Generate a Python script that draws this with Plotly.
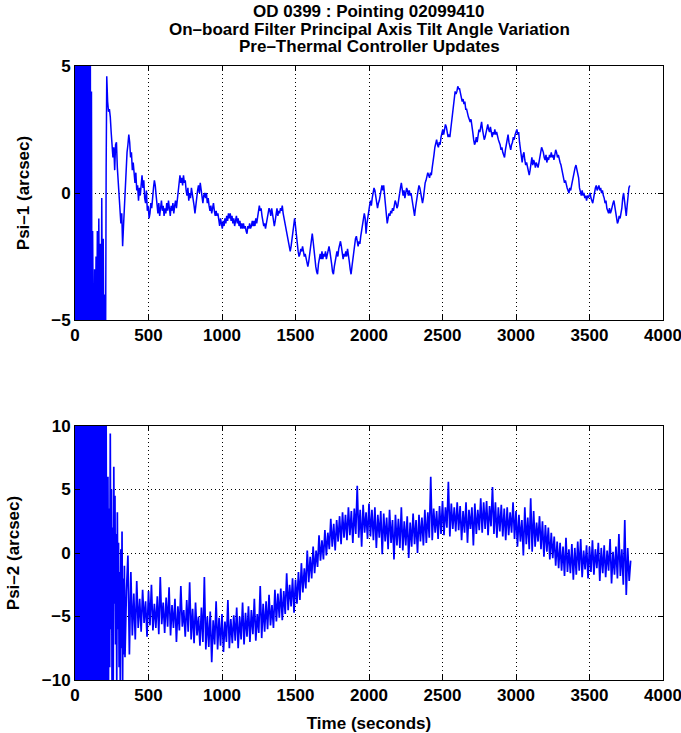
import numpy as np
import plotly.graph_objects as go
from plotly.subplots import make_subplots

# ---------------- Psi-1 ----------------
# settling transient at the start of the pointing (seconds, arcsec)
psi1_start_t = [0, 4, 8, 12, 16, 20, 24, 28, 32, 36, 40, 44, 48, 52, 56, 60,
                64, 68, 72, 76, 80, 84, 88, 92, 96, 100, 104, 108, 112, 116,
                120, 124, 128, 133, 138, 143, 148, 152, 157, 162, 167, 172,
                177, 182, 187, 192, 197, 202, 207, 212]
psi1_start_v = [12, -12, 11, -13, 12, -11, 13, -12, 10, -12, 12, -13, 11, -10,
                12, -12, 13, -11, 12, -12, 11, -13, 12, -12, 10, -11, 7, -9,
                4, -8, -1.5, -7, -9, -3, -7, -2.5, -6, -1.5, -8, -1.0, -6, -2,
                -9, -0.2, -5.5, -1.8, -7, -4, -8, 1.0]

# 6 s samples from t = 216 s onward
psi1_t0 = 216
psi1_dt = 6
psi1_v = [
    4.6, 3.6, 3.2, 3.3, 3.0, 2.4, 1.8, 1.4, 1.8, 0.9, 1.9, 2.0, 1.0, 0.5,
    -0.3, -0.6, -1.2, -0.8, -2.1, -1.3, -0.5, 0.4, 0.9, 1.6, 1.9, 2.3, 2.0, 1.4,
    1.6, 0.9, 1.2, 0.6, 0.4, 0.8, 0.1, 0.3, -0.3, 0.2, -0.1, 0.3, 0.7, 0.2,
    0.5, -0.2, -0.4, 0.1, -0.7, -0.5, -1.0, -0.8, -0.4, -0.6, 0.0, 0.2, 0.5, 0.3,
    -0.1, -0.5, -0.8, -0.4, -0.9, -0.6, -0.3, -0.7, -0.5, -0.9, -0.6, -0.8, -0.4, -0.7,
    -0.3, -0.6, -0.9, -0.5, -0.7, -0.4, -0.8, -0.5, -0.3, -0.6, -0.2, 0.1, 0.5, 0.7,
    0.4, 0.6, 0.3, 0.7, 0.4, 0.5, 0.1, -0.1, 0.2, -0.3, 0.0, -0.2, 0.2, 0.0,
    -0.3, -0.5, -0.8, -0.4, -0.1, 0.1, 0.3, 0.0, 0.4, 0.1, -0.2, -0.4, -0.1, 0.0,
    -0.2, 0.0, -0.4, -0.2, -0.5, -0.7, -0.5, -0.8, -0.6, -0.4, -0.7, -0.9, -0.7, -0.9,
    -0.8, -1.1, -1.3, -1.0, -1.2, -1.4, -1.1, -1.3, -1.0, -1.2, -0.9, -1.1, -0.8, -1.0,
    -0.8, -1.1, -0.9, -1.2, -1.0, -1.3, -1.1, -0.9, -1.2, -1.0, -1.3, -1.1, -1.4, -1.2,
    -1.4, -1.2, -1.4, -1.3, -1.5, -1.6, -1.3, -1.4, -1.2, -1.4, -1.3, -1.1, -1.3, -1.1,
    -1.3, -1.0, -1.2, -0.9, -0.7, -0.5, -0.7, -0.6, -0.9, -1.1, -1.3, -1.2, -1.4, -1.2,
    -1.0, -0.8, -0.6, -0.7, -0.9, -0.6, -0.8, -1.0, -1.3, -1.1, -0.8, -0.6, -0.9, -0.7,
    -0.8, -0.6, -0.7, -0.5, -0.8, -1.0, -1.2, -1.4, -1.5, -1.7, -1.9, -2.1, -2.3, -2.1,
    -1.8, -1.5, -1.2, -1.0, -1.3, -1.7, -2.0, -2.3, -2.5, -2.4, -2.2, -2.3, -2.1, -2.3,
    -2.5, -2.4, -2.6, -2.7, -2.9, -2.7, -2.4, -2.1, -1.8, -1.6, -1.9, -2.3, -2.6, -2.9,
    -3.1, -3.2, -2.8, -2.6, -2.4, -2.6, -2.3, -2.6, -2.4, -2.5, -2.3, -2.6, -2.4, -2.2,
    -2.1, -2.3, -2.5, -2.8, -3.1, -3.2, -2.9, -2.6, -2.5, -2.3, -2.5, -2.2, -2.0, -1.9,
    -2.1, -2.3, -2.6, -2.4, -2.5, -2.3, -2.5, -2.2, -2.4, -2.7, -3.0, -3.2, -2.9, -2.6,
    -2.3, -2.0, -1.8, -1.7, -1.9, -2.1, -1.9, -2.0, -1.7, -1.5, -1.2, -1.0, -0.8, -1.0,
    -1.6, -1.2, -0.9, -0.7, -0.5, -0.3, -0.5, -0.2, 0.0, 0.2, 0.1, -0.2, -0.5, -0.6,
    -0.4, -0.3, -0.1, 0.1, 0.3, 0.1, 0.3, -0.1, -0.5, -0.9, -1.2, -1.0, -0.8, -0.9,
    -0.7, -0.8, -0.6, -0.7, -0.5, -0.3, -0.4, -0.6, -0.5, -0.2, 0.0, 0.2, 0.4, 0.2,
    -0.1, 0.1, -0.2, 0.0, 0.2, 0.1, -0.1, 0.1, -0.1, 0.0, -0.2, -0.4, -0.7, -0.9,
    -0.6, -0.3, -0.1, 0.1, 0.3, 0.2, 0.0, -0.2, -0.4, -0.2, 0.2, 0.4, 0.5, 0.7,
    0.8, 0.7, 0.6, 0.8, 0.7, 1.0, 1.2, 1.5, 1.8, 2.0, 2.1, 1.9, 1.8, 2.0,
    1.9, 2.2, 2.4, 2.5, 2.3, 2.5, 2.7, 2.6, 2.4, 2.2, 2.3, 2.2, 2.5, 2.8,
    3.1, 3.3, 3.7, 4.0, 3.9, 4.0, 4.2, 4.1, 4.1, 3.9, 3.8, 3.6, 3.7, 3.5,
    3.6, 3.3, 3.3, 3.1, 3.0, 2.9, 2.8, 2.9, 2.7, 2.4, 2.1, 1.9, 2.0, 2.2,
    2.0, 2.3, 2.5, 2.4, 2.6, 2.8, 2.5, 2.3, 2.1, 2.2, 2.4, 2.6, 2.7, 2.5,
    2.4, 2.6, 2.3, 2.2, 2.4, 2.3, 2.5, 2.3, 2.4, 2.2, 2.1, 2.0, 1.9, 1.7,
    1.8, 1.6, 1.5, 1.4, 1.7, 1.9, 2.1, 2.3, 2.0, 1.8, 1.7, 1.9, 2.0, 2.2,
    2.1, 2.3, 2.4, 2.5, 2.3, 2.4, 2.0, 1.7, 1.3, 1.2, 1.5, 1.6, 1.3, 1.1,
    1.2, 1.0, 0.8, 0.7, 0.9, 1.2, 1.4, 1.1, 1.3, 1.2, 1.0, 1.2, 1.1, 1.0,
    1.2, 1.4, 1.5, 1.8, 1.7, 1.6, 1.4, 1.3, 1.5, 1.2, 1.4, 1.3, 1.5, 1.4,
    1.6, 1.4, 1.5, 1.3, 1.5, 1.7, 1.6, 1.4, 1.5, 1.3, 1.2, 1.1, 0.9, 0.7,
    0.5, 0.4, 0.5, 0.3, 0.2, 0.1, 0.0, 0.2, 0.1, 0.3, 0.5, 0.7, 0.9, 1.0,
    1.1, 0.9, 0.8, 0.6, 0.2, 0.0, -0.1, 0.1, -0.1, 0.0, -0.2, -0.1, -0.3, -0.1,
    -0.2, -0.1, 0.0, -0.2, -0.3, -0.4, -0.2, 0.1, 0.2, 0.3, 0.1, 0.2, 0.3, 0.1,
    0.2, 0.0, 0.1, -0.1, -0.2, -0.4, -0.3, -0.6, -0.7, -0.8, -0.6, -0.8, -0.7, -0.5,
    -0.4, -0.3, -0.5, -0.8, -1.0, -1.2, -1.1, -0.9, -1.0, -0.8, -0.6, -0.2, 0.0, -0.3,
    -0.7, -0.9, -0.5, -0.1, 0.2, 0.3,
]

# ---------------- Psi-2 ----------------
# settling transient (seconds, arcsec)
psi2_start_t = [0, 3, 6, 9, 12, 15, 18, 21, 24, 27, 30, 33, 36, 39, 42, 45, 48,
                51, 54, 57, 60, 63, 66, 69, 72, 75, 78, 81, 84, 87, 90, 93, 96,
                99, 102, 105, 108, 111, 114, 117, 120, 123, 126, 129, 132, 135,
                138, 141, 144, 147, 150, 153, 156, 159, 162, 165, 168, 171, 174,
                177, 180, 183, 186, 189, 192, 195, 198, 201, 204, 208, 212, 216,
                220, 224, 228, 232, 236, 240, 244, 248, 252, 256, 260, 264, 268,
                272, 276, 280, 284, 288, 292, 296, 300, 304, 308, 312, 316, 320,
                324, 328, 332, 336]
psi2_start_v = [15, -15, 14, -16, 15, -14, 16, -15, 13, -15, 15, -16, 14, -13,
                15, -15, 16, -14, 15, -15, 14, -16, 15, -15, 13, -14, 15, -15,
                16, -14, 15, -16, 14, -15, 15, -13, 16, -15, 14, -15, 15, -16,
                13, -14, 15, -15, 16, -14, 15, -15, 14, -16, 15, -15, 13, -14,
                15, -15, 14, -13, 15, -15, 16, -14, 15, -15, 12, -12, 11, -11,
                10.5, -12,
                -10.8, 6.0, -10.0, 3.5, -9.0, 9.4, -6.0, 5.0, -10.5, 2.0,
                -10.5, 6.8, -4.0, 4.5, -7.2, 1.5, -10.5, 3.2, -6.0, 0.8,
                -9.0, -1.5, -10.5, 0.3, -7.5, 1.7, -10.2, -2.0, -8.0, -1.0]

# 10 s samples from t = 340 s onward
psi2_t0 = 340
psi2_dt = 10
psi2_v = [
    -8.2, -3.0, -0.2, -8.0, -1.5, -6.5,
    -3.2, -6.8, -2.2, -5.9, -3.6, -6.2, -2.9, -5.5, -3.8, -6.6,
    -3.0, -5.7, -2.5, -6.1, -4.0, -5.9, -3.4, -6.4, -1.9, -5.6,
    -3.9, -6.3, -3.5, -5.8, -2.7, -6.5, -4.1, -5.9, -3.6, -7.0,
    -4.2, -6.1, -2.6, -5.8, -4.5, -6.6, -3.7, -6.2, -2.3, -6.8,
    -4.4, -7.1, -3.9, -6.5, -5.0, -7.3, -4.3, -7.0, -1.9, -7.6,
    -5.0, -7.4, -4.6, -8.6, -5.3, -7.2, -3.8, -7.6, -5.1, -7.3,
    -4.8, -7.8, -5.4, -7.0, -3.7, -7.5, -5.2, -7.1, -4.9, -6.9,
    -4.3, -7.5, -5.0, -6.8, -3.9, -7.2, -4.7, -6.6, -4.2, -7.0,
    -4.5, -6.4, -3.6, -6.9, -4.8, -6.3, -2.6, -6.7, -4.0, -6.2,
    -3.8, -6.0, -3.3, -5.7, -4.1, -5.9, -2.9, -5.4, -3.2, -5.1,
    -2.8, -5.3, -3.0, -4.8, -1.6, -4.5, -2.5, -4.2, -2.0, -4.7,
    -2.1, -4.0, -1.5, -3.7, -0.8, -3.1, -1.2, -2.8, 0.2, -2.3,
    -0.3, -2.0, 0.5, -1.6, 0.2, -1.1, 1.4, -0.6, 1.0, -0.5,
    1.8, -0.2, 1.6, 0.3, 2.7, 0.5, 2.3, 0.2, 2.6, 0.9,
    2.9, 0.7, 3.2, 1.2, 3.0, 1.0, 3.6, 1.4, 3.3, 0.8,
    3.5, 1.5, 5.3, 1.2, 3.4, 0.5, 3.8, 1.6, 3.2, 1.1,
    3.9, 1.3, 3.4, 1.0, 3.6, 0.4, 3.0, 1.2, 3.3, -0.1,
    3.1, 0.9, 2.8, 0.3, 3.4, 0.8, 2.6, -0.5, 3.0, 0.6,
    2.7, 0.4, 3.6, 0.2, 2.5, 0.6, 2.9, -0.4, 2.4, 0.5,
    3.1, 0.7, 2.6, 0.0, 3.0, 0.9, 2.8, 0.6, 3.4, 0.8,
    3.2, 1.2, 6.0, 1.0, 3.5, 1.6, 3.3, 1.1, 3.7, 1.5,
    4.1, 1.4, 3.6, 2.0, 5.6, 1.3, 3.9, 1.9, 3.6, 1.7,
    4.0, 1.8, 3.7, 1.0, 3.3, 1.6, 4.0, 0.8, 3.4, 1.9,
    3.6, 0.6, 3.9, 1.5, 3.4, 1.8, 4.3, 1.6, 4.0, 1.9,
    4.1, 1.4, 3.7, 2.1, 5.2, 1.5, 4.0, 1.2, 3.6, 1.7,
    3.8, 1.3, 3.5, 1.0, 3.6, 1.4, 3.2, 1.6, 4.0, 1.1,
    3.3, 0.5, 3.0, 0.9, 2.6, -0.2, 3.6, 0.7, 2.8, 0.3,
    4.3, 0.1, 3.3, 0.5, 2.4, 0.9, 2.9, 0.3, 2.5, -0.3,
    2.2, 0.1, 2.0, -0.5, 1.6, -0.4, 1.3, -1.0, 0.9, -1.2,
    0.8, -1.4, 0.5, -1.8, 1.2, -1.5, 0.3, -1.6, 0.7, -2.1,
    0.4, -1.7, 0.9, -1.4, 1.1, -1.9, 0.2, -1.3, 0.6, -2.0,
    0.5, -1.5, 1.0, -1.7, 0.3, -1.2, 0.8, -2.2, 0.4, -1.6,
    0.6, -1.9, 0.2, -1.4, 1.1, -2.4, 0.1, -1.7, 0.5, -2.0,
    1.5, -1.8, 0.3, -2.5, 2.6, -3.3, 0.4, -2.2, -0.6,
]

psi1_t = psi1_start_t + [psi1_t0 + psi1_dt * i for i in range(len(psi1_v))]
psi1_y = psi1_start_v + psi1_v
psi2_t = psi2_start_t + [psi2_t0 + psi2_dt * i for i in range(len(psi2_v))]
psi2_y = psi2_start_v + psi2_v

title_lines = ["OD 0399 : Pointing 02099410",
               "On\u2013board Filter Principal Axis Tilt Angle Variation",
               "Pre\u2013Thermal Controller Updates"]
x_ticks = [0, 500, 1000, 1500, 2000, 2500, 3000, 3500, 4000]
psi1_ticks = [-5, 0, 5]
psi2_ticks = [-10, -5, 0, 5, 10]

FONT = "Liberation Sans, Arial, sans-serif"
W, H = 681, 733
ML, MR, MT, MB = 75, 18, 66, 53

fig = make_subplots(rows=2, cols=1, vertical_spacing=(426 - 320) / (H - MT - MB))

fig.add_trace(go.Scatter(x=psi1_t, y=psi1_y, mode="lines",
                         line=dict(color="#0000ff", width=1.5)), row=1, col=1)
fig.add_trace(go.Scatter(x=psi2_t, y=psi2_y, mode="lines",
                         line=dict(color="#0000ff", width=1.7)), row=2, col=1)

axis_common = dict(
    showline=True, linecolor="black", linewidth=1, mirror="allticks",
    ticks="inside", ticklen=5, tickcolor="black", tickwidth=1,
    showgrid=True, gridcolor="black", gridwidth=1, griddash="1px,3px",
    zeroline=False, automargin=False,
    tickfont=dict(family=FONT, size=17, color="black", weight="bold"),
)

for r in (1, 2):
    fig.update_xaxes(range=[0, 4000], tickvals=x_ticks, ticklabeloverflow="allow",
                     row=r, col=1, **axis_common)

fig.update_yaxes(range=[-5, 5], tickvals=psi1_ticks, row=1, col=1, **axis_common)
fig.update_yaxes(range=[-10, 10], tickvals=psi2_ticks, row=2, col=1, **axis_common)

label_font = dict(family=FONT, size=17, color="black", weight="bold")
fig.update_yaxes(title=dict(text="Psi\u20131 (arcsec)", standoff=17, font=label_font),
                 row=1, col=1)
fig.update_yaxes(title=dict(text="Psi\u20132 (arcsec)", standoff=17, font=label_font),
                 row=2, col=1)
fig.update_xaxes(title=dict(text="Time (seconds)", standoff=12, font=label_font),
                 row=2, col=1)

for k, line in enumerate(title_lines):
    fig.add_annotation(text=line, xref="paper", yref="paper", x=0.5,
                       y=1 + (MT - 12 - 17.5 * k) / (H - MT - MB),
                       yanchor="middle", xanchor="center", showarrow=False,
                       font=label_font)

fig.update_layout(
    width=W, height=H, showlegend=False,
    margin=dict(l=ML, r=MR, t=MT, b=MB, pad=0, autoexpand=False),
    paper_bgcolor="white", plot_bgcolor="white",
)

fig.write_html("out.html")
